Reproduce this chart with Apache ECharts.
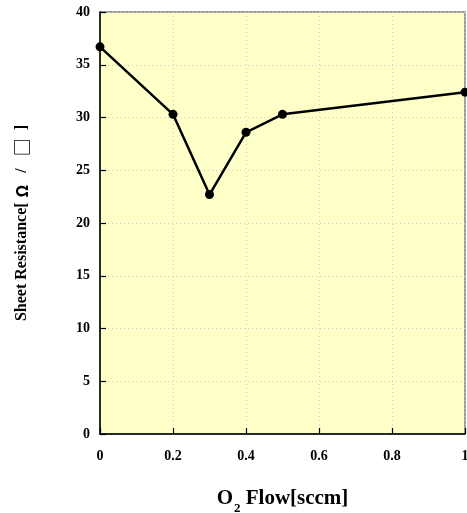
<!DOCTYPE html>
<html><head><meta charset="utf-8">
<script src="https://cdn.jsdelivr.net/npm/echarts@6/dist/echarts.min.js"></script>
<style>html,body{margin:0;padding:0;background:#fff}#c{width:467px;height:513px}</style>
</head><body><div id="c"></div>
<script>
const flow = [0, 0.2, 0.3, 0.4, 0.5, 1.0];
const resistance = [36.7, 30.3, 22.7, 28.6, 30.3, 32.4];
const xTickLabels = ['0', '0.2', '0.4', '0.6', '0.8', '1'];
const yTickLabels = ['0', '5', '10', '15', '20', '25', '30', '35', '40'];

const serif = '"Liberation Serif", "Times New Roman", serif';
const cjk = '"Noto Sans CJK JP", sans-serif';
const seg = (family, size, pad) => ({fontFamily: family, fontWeight: 'bold', fontSize: size, color: '#000',
  lineHeight: 22, verticalAlign: 'middle', padding: pad});
const chart = echarts.init(document.getElementById('c'), null, {renderer: 'canvas'});
chart.setOption({
  animation: false,
  backgroundColor: '#ffffff',
  grid: {left: 100, right: 2, top: 12, bottom: 79, outerBoundsMode: 'none', containLabel: false,
         show: true, backgroundColor: '#FFFFC8', borderColor: '#808080', borderWidth: 1.5},
  xAxis: {
    type: 'value', min: 0, max: 1, interval: 0.2,
    name: '{o|O}{s|2}{o| Flow[sccm]}', nameLocation: 'middle', nameGap: 54,
    nameTextStyle: {rich: {
      o: {fontFamily: serif, fontWeight: 'bold', fontSize: 21, color: '#000', verticalAlign: 'top', lineHeight: 24},
      s: {fontFamily: serif, fontWeight: 'bold', fontSize: 13, color: '#000', verticalAlign: 'top', lineHeight: 24, padding: [14, 0, 0, 1]}
    }},
    axisLine: {show: true, onZero: false, lineStyle: {color: '#000', width: 1.5}},
    axisTick: {show: true, inside: true, length: 6, lineStyle: {color: '#000', width: 1.2}},
    axisLabel: {fontFamily: serif, fontWeight: 'bold', fontSize: 14, color: '#000', margin: 15,
                formatter: (v) => xTickLabels[Math.round(v / 0.2)]},
    splitLine: {show: true, lineStyle: {color: '#cccccc', type: [1, 3], width: 1}}
  },
  yAxis: {
    type: 'value', min: 0, max: 40, interval: 5,
    name: '{a|Sheet Resistance[}{b|Ω}{c|/}{d|□}{e|]}', nameLocation: 'middle', nameGap: 67,
    nameTextStyle: {rich: {
      a: seg(serif, 16, [0, 0, 0, 0]),
      b: seg(cjk, 16, [0, 4, 0, 5]),
      c: seg(serif, 16, [0, 8, 0, 8]),
      d: seg(cjk, 18, [0, 4, 0, 4]),
      e: seg(serif, 16, [0, 0, 0, 4])
    }},
    axisLine: {show: true, lineStyle: {color: '#000', width: 1.5}},
    axisTick: {show: true, inside: true, length: 6, lineStyle: {color: '#000', width: 1.2}},
    axisLabel: {fontFamily: serif, fontWeight: 'bold', fontSize: 14, color: '#000', margin: 10,
                formatter: (v) => yTickLabels[Math.round(v / 5)]},
    splitLine: {show: true, lineStyle: {color: '#cccccc', type: [1, 3], width: 1}}
  },
  series: [{
    type: 'line',
    data: flow.map((x, i) => [x, resistance[i]]),
    symbol: 'circle', symbolSize: 9,
    lineStyle: {color: '#000', width: 2.5},
    itemStyle: {color: '#000'},
    clip: false
  }]
});
</script></body></html>
